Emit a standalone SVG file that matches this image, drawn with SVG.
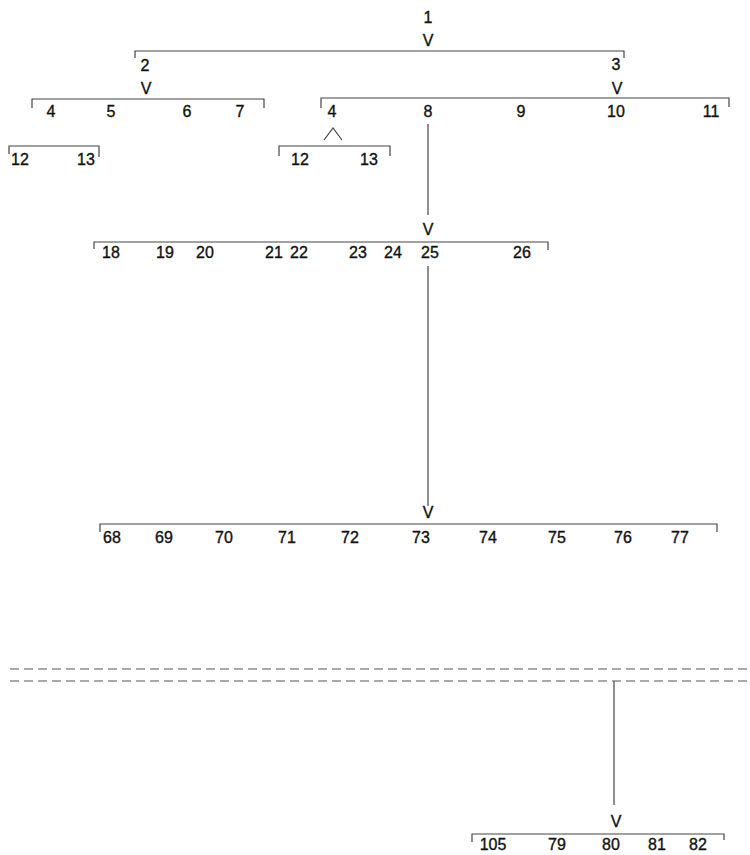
<svg xmlns="http://www.w3.org/2000/svg" width="750" height="855" viewBox="0 0 750 855">
<style>
text{font-family:"Liberation Sans",Arial,sans-serif;font-size:16px;fill:#111;stroke:#111;stroke-width:0.35;text-anchor:middle}
.v{font-size:16px}
.ln{stroke:#444;stroke-width:1.2;fill:none}
.dash{stroke:#555;stroke-width:1.2;stroke-dasharray:9 5;fill:none}
</style>
<rect width="750" height="855" fill="#fff"/>
<g id="n1"><text x="428" y="23">1</text><text class="v" x="428" y="46">V</text>
<path class="ln" d="M135,58 V51 H624 V58"/></g>
<g id="n2"><text x="145" y="71">2</text><text class="v" x="146" y="94">V</text>
<path class="ln" d="M32,108 V99 H264 V108"/>
<text x="51" y="117">4</text><text x="111" y="117">5</text><text x="187" y="117">6</text><text x="240" y="117">7</text></g>
<g id="n3"><text x="616" y="70">3</text><text class="v" x="617" y="94">V</text>
<path class="ln" d="M321,108 V98 H729 V107"/>
<text x="332" y="117">4</text><text x="428" y="117">8</text><text x="521" y="117">9</text><text x="616" y="117">10</text><text x="711" y="117">11</text></g>
<g id="n4a"><path class="ln" d="M9,154 V146 H99 V157"/>
<text x="20" y="165">12</text><text x="86" y="165">13</text></g>
<g id="n4b"><path class="ln" d="M324,140 L333,128 L342,140"/>
<path class="ln" d="M279,156 V146 H390 V156"/>
<text x="300" y="165">12</text><text x="369" y="165">13</text></g>
<g id="n8"><text class="v" x="428" y="235">V</text>
<path class="ln" d="M94,249 V242 H548 V250"/>
<text x="111" y="258">18</text><text x="165" y="258">19</text><text x="205" y="258">20</text><text x="274" y="258">21</text><text x="299" y="258">22</text><text x="358" y="258">23</text><text x="393" y="258">24</text><text x="430" y="258">25</text><text x="522" y="258">26</text></g>
<g id="n25"><text class="v" x="428" y="518">V</text>
<path class="ln" d="M100,532 V524 H717 V532"/>
<text x="112" y="543">68</text><text x="164" y="543">69</text><text x="224" y="543">70</text><text x="287" y="543">71</text><text x="350" y="543">72</text><text x="421" y="543">73</text><text x="488" y="543">74</text><text x="557" y="543">75</text><text x="623" y="543">76</text><text x="680" y="543">77</text></g>
<g id="n80"><text class="v" x="616" y="827">V</text>
<path class="ln" d="M472,842 V834 H724 V840"/>
<text x="493" y="850">105</text><text x="557" y="850">79</text><text x="611" y="850">80</text><text x="657" y="850">81</text><text x="698" y="850">82</text></g>
<g id="connectors">
<path class="ln" d="M428,124 V215"/>
<path class="ln" d="M428,266 V506"/>
<path class="ln" d="M614,681 V805"/>
<path class="dash" d="M10,669 H750"/>
<path class="dash" d="M10,681 H750"/>
</g>
</svg>
